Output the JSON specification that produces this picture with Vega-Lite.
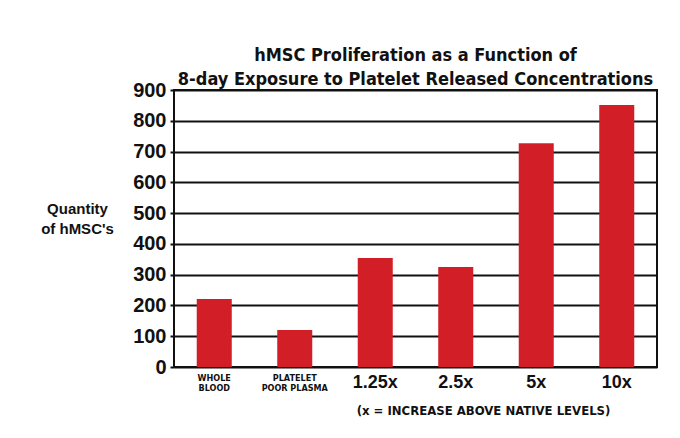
{
  "$schema": "https://vega.github.io/schema/vega-lite/v6.json",
  "width": 483,
  "height": 277,
  "autosize": {"type": "none"},
  "padding": {"left": 174, "top": 90, "right": 23, "bottom": 71},
  "background": "white",
  "title": {
    "text": ["hMSC Proliferation as a Function of", "8-day Exposure to Platelet Released Concentrations"],
    "anchor": "middle",
    "frame": "group",
    "font": "DejaVu Sans Condensed, sans-serif",
    "fontSize": 18,
    "fontWeight": "bold",
    "color": "#111",
    "lineHeight": 24,
    "offset": -9
  },
  "data": {
    "values": [
      {"group": "WHOLE BLOOD", "count": 221},
      {"group": "PLATELET POOR PLASMA", "count": 120},
      {"group": "1.25x", "count": 354},
      {"group": "2.5x", "count": 325},
      {"group": "5x", "count": 727},
      {"group": "10x", "count": 851}
    ]
  },
  "mark": {"type": "bar", "color": "#d21f27"},
  "encoding": {
    "x": {
      "field": "group",
      "type": "nominal",
      "sort": null,
      "scale": {"paddingInner": 0.565, "paddingOuter": 0.2825},
      "axis": {
        "title": "(x = INCREASE ABOVE NATIVE LEVELS)",
        "titleFont": "DejaVu Sans Condensed, sans-serif",
        "titleFontSize": 13,
        "titleFontWeight": "bold",
        "titleColor": "#111",
        "titleX": 309,
        "titleY": 43,
        "titleAnchor": "middle",
        "titleAlign": "center",
        "titleBaseline": "middle",
        "labelAngle": 0,
        "labelColor": "#111",
        "labelFontWeight": "bold",
        "labelFont": {"condition": {"test": "datum.value == 'WHOLE BLOOD' || datum.value == 'PLATELET POOR PLASMA'", "value": "DejaVu Sans Condensed, sans-serif"}, "value": "Liberation Sans, sans-serif"},
        "labelFontSize": {"condition": {"test": "datum.value == 'WHOLE BLOOD' || datum.value == 'PLATELET POOR PLASMA'", "value": 9}, "value": 18},
        "labelExpr": "datum.value == 'WHOLE BLOOD' ? ['WHOLE', 'BLOOD'] : datum.value == 'PLATELET POOR PLASMA' ? ['PLATELET', 'POOR PLASMA'] : datum.label",
        "labelLineHeight": 10,
        "labelBaseline": "top",
        "labelPadding": 6,
        "ticks": false,
        "domain": false,
        "grid": false
      }
    },
    "y": {
      "field": "count",
      "type": "quantitative",
      "scale": {"domain": [0, 900], "nice": false},
      "axis": {
        "values": [0, 100, 200, 300, 400, 500, 600, 700, 800, 900],
        "title": ["Quantity", "of hMSC's"],
        "titleAngle": 0,
        "titleX": -97,
        "titleY": 118,
        "titleAlign": "center",
        "titleBaseline": "middle",
        "titleFont": "Liberation Sans, sans-serif",
        "titleFontSize": 15,
        "titleFontWeight": "bold",
        "titleColor": "#111",
        "titleLineHeight": 20,
        "labelFont": "Liberation Sans, sans-serif",
        "labelFontSize": 20,
        "labelFontWeight": "bold",
        "labelColor": "#111",
        "labelPadding": 4,
        "tickColor": "#111",
        "tickSize": 4,
        "tickWidth": 2,
        "gridColor": "#111",
        "gridWidth": 2,
        "gridOpacity": 1,
        "domain": false
      }
    }
  },
  "config": {
    "view": {"stroke": "#111", "strokeWidth": 2}
  }
}
